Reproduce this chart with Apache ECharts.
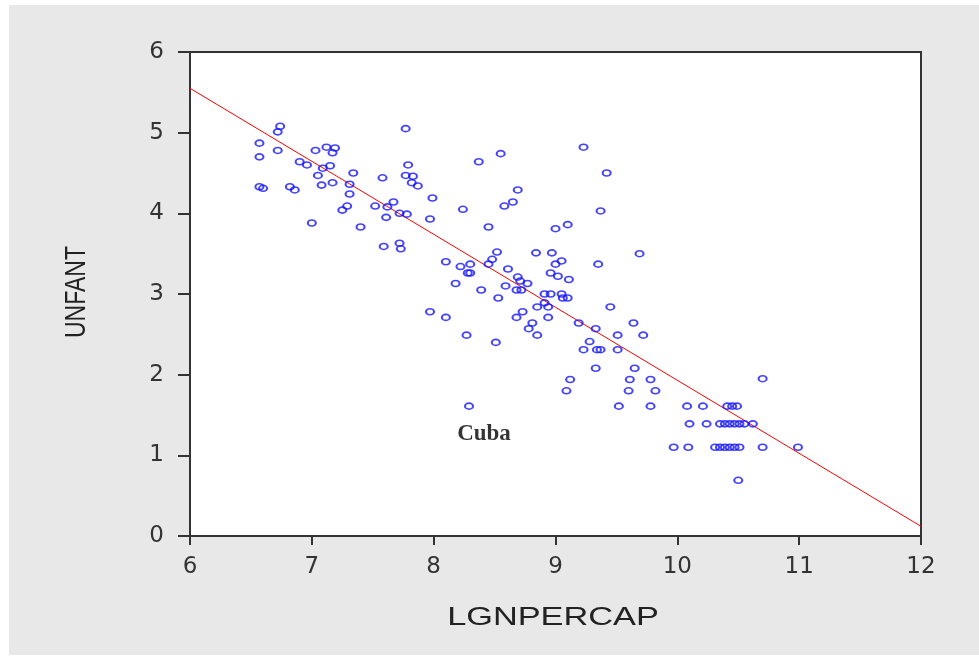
<!DOCTYPE html>
<html>
<head>
<meta charset="utf-8">
<script src="https://cdn.jsdelivr.net/npm/echarts@6/dist/echarts.min.js"></script>
<style>
  html, body { margin: 0; padding: 0; background: #fff; }
  #main {
    position: absolute; left: 0; top: 0;
    width: 979px; height: 660px;
    box-sizing: border-box;
    border-left: 9px solid #fff; border-top: 5px solid #fff; border-bottom: 5px solid #fff;
    background: #e8e8e8;
  }
</style>
</head>
<body>
<div id="main"></div>
<script>
// LGNPERCAP (x) and LINFANT (y)
var lgnpercap = [
  6.74, 6.72, 6.57, 6.72, 6.57, 7.77, 7.03, 7.12, 7.17, 7.19, 6.90, 6.96, 7.09, 7.15, 7.34,
  7.05, 7.08, 7.17, 7.31, 7.31, 7.58, 7.79, 7.77, 7.83, 7.82, 7.87, 7.99, 6.57, 6.60, 6.82,
  6.86, 7.29, 7.25, 7.52, 7.62, 7.67, 7.72, 7.78, 7.61, 7.00, 7.40, 7.97, 7.59, 7.72, 7.73,
  9.23, 8.55, 8.37, 9.42, 8.69, 8.65, 8.58, 8.24, 9.37, 8.45, 9.10, 9.00, 8.52, 8.84, 8.97,
  9.69, 8.10, 8.22, 8.30, 8.28, 8.30, 8.48, 8.45, 8.61, 9.05, 9.00, 9.35, 8.96, 9.02, 9.11,
  8.18, 8.39, 8.53, 8.59, 8.69, 8.71, 8.77, 8.68, 8.72, 8.91, 8.96, 9.05, 9.06, 9.10, 8.91,
  8.85, 8.94, 9.45, 7.97, 8.10, 8.73, 8.68, 8.94, 9.19, 9.64, 8.81, 8.78, 8.85, 8.27, 8.51,
  9.33, 9.51, 9.72, 9.28, 9.23, 9.34, 9.37, 9.51, 9.33, 9.65, 9.12, 9.61, 9.78, 10.70, 9.09,
  9.60, 9.82, 9.52, 9.78, 10.08, 10.21, 10.41, 10.45, 10.49, 10.10, 10.24, 10.35, 10.39, 10.43, 10.47,
  10.51, 10.55, 10.62, 9.97, 10.09, 10.31, 10.35, 10.39, 10.43, 10.47, 10.51, 10.70, 10.99, 10.50
]
var linfant = [
  5.08, 5.01, 4.87, 4.78, 4.70, 5.05, 4.78, 4.82, 4.75, 4.81, 4.64, 4.60, 4.56, 4.59, 4.50,
  4.47, 4.35, 4.38, 4.36, 4.24, 4.44, 4.60, 4.47, 4.46, 4.38, 4.34, 4.19, 4.33, 4.31, 4.33,
  4.29, 4.09, 4.04, 4.09, 4.08, 4.14, 4.00, 3.99, 3.95, 3.88, 3.83, 3.93, 3.59, 3.63, 3.56,
  4.82, 4.74, 4.64, 4.50, 4.29, 4.14, 4.09, 4.05, 4.03, 3.83, 3.86, 3.81, 3.52, 3.51, 3.51,
  3.50, 3.40, 3.34, 3.37, 3.26, 3.26, 3.43, 3.37, 3.31, 3.41, 3.37, 3.37, 3.26, 3.22, 3.18,
  3.13, 3.05, 2.95, 3.10, 3.21, 3.16, 3.13, 3.05, 3.05, 3.00, 3.00, 3.00, 2.95, 2.95, 2.89,
  2.84, 2.84, 2.84, 2.78, 2.71, 2.78, 2.71, 2.71, 2.64, 2.64, 2.64, 2.57, 2.49, 2.49, 2.40,
  2.57, 2.49, 2.49, 2.41, 2.31, 2.31, 2.31, 2.31, 2.08, 2.08, 1.94, 1.94, 1.94, 1.95, 1.80,
  1.80, 1.80, 1.61, 1.61, 1.61, 1.61, 1.61, 1.61, 1.61, 1.39, 1.39, 1.39, 1.39, 1.39, 1.39,
  1.39, 1.39, 1.39, 1.10, 1.10, 1.10, 1.10, 1.10, 1.10, 1.10, 1.10, 1.10, 1.10, 0.69
]
var cuba = [8.29, 1.61]
// fitted regression line end points
var fitX = [6, 12]
var fitY = [5.55, 0.12]

var myChart = echarts.init(document.getElementById('main'))
var axisFont = { fontFamily: 'DejaVu Sans', fontSize: 23, color: '#333' }
var pointStyle = { color: 'transparent', borderColor: '#1414ff', borderWidth: 1.8 }

myChart.setOption({
  animation: false,
  grid: {
    left: 181, top: 47, width: 731, height: 484,
    show: true, backgroundColor: '#fff', borderColor: '#333', borderWidth: 2
  },
  xAxis: {
    type: 'value', min: 6, max: 12, interval: 1,
    axisLine: { onZero: false, lineStyle: { color: '#333', width: 2 } },
    axisTick: { length: 9, lineStyle: { color: '#333', width: 2 } },
    axisLabel: Object.assign({ margin: 20 }, axisFont),
    splitLine: { show: false }
  },
  yAxis: {
    type: 'value', min: 0, max: 6, interval: 1,
    axisLine: { onZero: false, lineStyle: { color: '#333', width: 2 } },
    axisTick: { length: 12, lineStyle: { color: '#333', width: 2 } },
    axisLabel: Object.assign({ margin: 26 }, axisFont),
    splitLine: { show: false }
  },
  graphic: [
    {
      type: 'text', x: 544, y: 613, scaleX: 1.32,
      style: { text: 'LGNPERCAP', font: '26px "Liberation Sans"', fill: '#222', align: 'center', verticalAlign: 'middle' }
    },
    {
      type: 'text', x: 68, y: 287, rotation: Math.PI / 2, scaleY: 1.3,
      style: { text: 'UNFANT', font: '23px "Liberation Sans"', fill: '#222', align: 'center', verticalAlign: 'middle' }
    }
  ],
  series: [
    {
      type: 'line',
      data: fitX.map(function (x, i) { return [x, fitY[i]] }),
      symbol: 'none',
      lineStyle: { color: '#ff0000', width: 1 },
      z: 1
    },
    {
      type: 'scatter',
      data: lgnpercap.map(function (x, i) { return [x, linfant[i]] }),
      symbol: 'circle',
      symbolSize: [8, 6],
      itemStyle: pointStyle,
      z: 2
    },
    {
      type: 'scatter',
      data: [cuba],
      symbol: 'circle',
      symbolSize: [8, 6],
      itemStyle: pointStyle,
      label: {
        show: true, formatter: 'Cuba', position: 'inside', offset: [15, 28],
        fontFamily: 'Liberation Serif', fontWeight: 'bold', fontSize: 23, color: '#000'
      },
      z: 2
    }
  ]
})
</script>
</body>
</html>
